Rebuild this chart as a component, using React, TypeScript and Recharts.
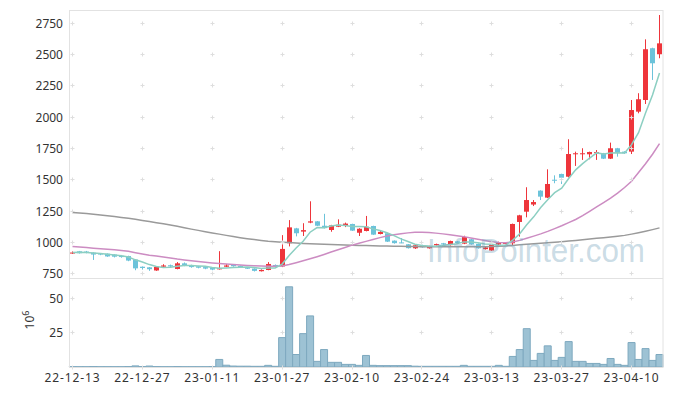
import React from 'react';
import { ComposedChart, Bar, Line, XAxis, YAxis, ReferenceDot, Label } from 'recharts';

const dates = [
  '22-12-13','22-12-14','22-12-15','22-12-16','22-12-19','22-12-20','22-12-21','22-12-22','22-12-23','22-12-26',
  '22-12-27','22-12-28','22-12-29','23-01-02','23-01-03','23-01-04','23-01-05','23-01-06','23-01-09','23-01-10',
  '23-01-11','23-01-12','23-01-13','23-01-16','23-01-17','23-01-18','23-01-19','23-01-20','23-01-25','23-01-26',
  '23-01-27','23-01-30','23-01-31','23-02-01','23-02-02','23-02-03','23-02-06','23-02-07','23-02-08','23-02-09',
  '23-02-10','23-02-13','23-02-14','23-02-15','23-02-16','23-02-17','23-02-20','23-02-21','23-02-22','23-02-23',
  '23-02-24','23-02-27','23-02-28','23-03-02','23-03-03','23-03-06','23-03-07','23-03-08','23-03-09','23-03-10',
  '23-03-13','23-03-14','23-03-15','23-03-16','23-03-17','23-03-20','23-03-21','23-03-22','23-03-23','23-03-24',
  '23-03-27','23-03-28','23-03-29','23-03-30','23-03-31','23-04-03','23-04-04','23-04-05','23-04-06','23-04-07',
  '23-04-10','23-04-11','23-04-12','23-04-13','23-04-14',
];

const opens = [
  917,931,929,920,914,912,905,895,893,865,
  808,803,778,808,820,790,835,820,812,805,
  800,790,808,822,815,800,793,772,782,822,
  810,995,1114,1088,1160,1170,1135,1101,1127,1133,
  1149,1079,1093,1133,1069,1075,1016,1002,987,955,
  981,955,979,995,980,1011,992,1027,990,948,
  937,985,990,995,1165,1247,1304,1415,1359,1502,
  1548,1526,1705,1705,1705,1716,1713,1670,1753,1726,
  1726,2045,2138,2551,2503,
];
const highs = [
  930,934,934,923,917,914,908,902,896,868,
  810,805,810,828,825,845,842,824,815,808,
  803,932,830,826,818,803,795,787,845,826,
  1060,1180,1118,1155,1330,1172,1230,1142,1186,1160,
  1151,1115,1213,1135,1100,1077,1018,1037,989,982,
  984,976,992,998,1016,1014,1055,1030,993,965,
  987,1008,1005,1152,1222,1442,1340,1418,1585,1537,
  1550,1825,1726,1753,1726,1739,1716,1798,1756,1729,
  2138,2192,2622,2555,2816,
];
const lows = [
  910,913,915,862,900,887,882,880,852,780,
  785,775,775,806,806,787,812,800,795,788,
  780,785,805,808,800,790,770,770,780,805,
  805,970,1050,1053,1155,1132,1113,1087,1124,1124,
  1093,1053,1090,1062,1066,1005,992,996,953,950,
  960,952,977,982,977,993,988,984,952,945,
  934,982,987,979,1048,1202,1292,1340,1355,1474,
  1468,1520,1612,1660,1665,1660,1667,1667,1686,1708,
  1707,2032,2106,2298,2471,
];
const closes = [
  921,916,918,905,905,890,888,885,857,795,
  798,788,806,818,810,835,820,805,800,793,
  785,795,818,812,805,793,775,782,830,808,
  950,1122,1075,1100,1170,1135,1116,1138,1143,1152,
  1096,1111,1127,1064,1086,1008,996,998,956,979,
  963,973,989,985,1013,996,1045,987,955,962,
  984,1004,1000,1149,1218,1340,1324,1367,1468,1498,
  1518,1707,1713,1713,1723,1722,1670,1753,1718,1713,
  2058,2144,2543,2431,2590,
];
const volumes = [
  0.2,0.2,0.2,0.3,0.2,0.2,0.2,0.2,0.3,0.8,
  0.3,0.7,0.3,0.2,0.2,0.3,0.2,0.2,0.2,0.2,
  0.3,5.5,1.3,0.7,0.6,0.6,0.5,0.5,1.2,0.5,
  21.4,58.4,9.1,24.3,37.2,4.1,12.7,3.4,3.4,1.9,
  1.9,1.2,8.4,1.2,1.0,1.0,1.0,1.0,1.0,0.6,
  0.5,0.5,0.5,0.5,0.5,0.5,1.2,0.5,0.5,0.5,
  0.5,1.2,0.5,7.7,12.7,27.9,4.8,9.9,15.4,4.8,
  7.0,18.5,4.1,4.1,2.6,2.6,1.9,6.2,1.9,1.2,
  17.8,5.5,13.4,4.8,9.1,
];
const ma5 = [
  922,923,922,918,913,907,901,895,885,863,
  845,825,809,801,804,812,818,818,814,811,
  801,796,798,801,803,805,801,793,797,798,
  829,898,957,1011,1083,1120,1119,1132,1140,1137,
  1129,1128,1126,1110,1097,1079,1056,1030,1009,987,
  978,974,972,978,985,991,1006,1005,999,989,
  987,978,981,1020,1071,1142,1206,1280,1343,1399,
  1435,1512,1581,1630,1675,1716,1708,1716,1717,1715,
  1782,1877,2035,2178,2353,
];
const ma20 = [
  970,966,961,956,951,947,943,938,931,920,
  910,900,894,886,878,869,862,855,849,843,
  838,834,830,826,822,818,815,813,812,812,
  814,826,840,855,871,888,906,925,944,962,
  980,995,1010,1025,1040,1053,1063,1071,1078,1083,
  1083,1081,1076,1070,1063,1056,1048,1038,1027,1017,
  1008,1002,1000,1006,1018,1035,1052,1070,1090,1112,
  1135,1160,1185,1215,1250,1285,1320,1355,1395,1440,
  1490,1560,1630,1705,1790,
];
const ma60 = [
  1240,1236,1232,1227,1221,1215,1208,1201,1194,1186,
  1177,1168,1159,1150,1141,1130,1119,1108,1098,1087,
  1077,1068,1058,1049,1040,1032,1025,1018,1012,1008,
  1004,1001,997,994,991,989,987,985,983,981,
  979,978,977,976,974,973,972,971,970,969,
  968,968,967,967,967,967,967,967,967,968,
  969,971,974,978,983,988,992,996,1000,1004,
  1008,1013,1018,1024,1030,1035,1040,1046,1052,1058,
  1068,1079,1091,1104,1118,
];

const priceTicks = [750, 1000, 1250, 1500, 1750, 2000, 2250, 2500, 2750];
const volumeTicks = [25, 50];
const dateTicks = ['22-12-13','22-12-27','23-01-11','23-01-27','23-02-10','23-02-24','23-03-13','23-03-27','23-04-10'];

const data = dates.map((d, i) => ({
  date: d,
  open: opens[i],
  high: highs[i],
  low: lows[i],
  close: closes[i],
  range: [lows[i], highs[i]],
  volume: volumes[i],
  ma5: ma5[i],
  ma20: ma20[i],
  ma60: ma60[i],
}));

const RED = '#ee353b';
const BLUE = '#6cc3da';
const FONT = '"Noto Sans", sans-serif';
const GRID = '#dedede';

const Candle = (props: any) => {
  const { x, y, width, height, payload } = props;
  if (x == null || y == null || !payload) return null;
  const top = Math.min(y, y + height);
  const bot = Math.max(y, y + height);
  const { open, close, high, low } = payload;
  const span = high - low;
  const toY = (v: number) => (span === 0 ? top : top + ((high - v) / span) * (bot - top));
  const c = Math.floor(x + width / 2) + 0.5;
  const up = close >= open;
  const color = up ? RED : BLUE;
  const yo = toY(open);
  const yc = toY(close);
  const bTop = Math.min(yo, yc);
  const bH = Math.max(1, Math.abs(yo - yc));
  return (
    <g>
      <line x1={c} x2={c} y1={top} y2={bot} stroke={color} strokeWidth={1} />
      <rect x={c - 2.5} y={bTop} width={5} height={bH} fill={color} />
    </g>
  );
};

const Cross = (props: any) => {
  const { cx, cy } = props;
  if (cx == null || cy == null) return null;
  const X = Math.floor(cx) + 0.5;
  const Y = Math.floor(cy) + 0.5;
  return <path d={`M${X - 2},${Y}H${X + 2}M${X},${Y - 2}V${Y + 2}`} stroke={GRID} strokeWidth={1} fill="none" />;
};

const VolLabel = () => (
  <text
    x={34}
    y={42}
    transform="rotate(-90, 34, 42)"
    textAnchor="middle"
    fontFamily={FONT}
    fontSize={12}
    fill="#333"
  >
    10<tspan dy={-5} fontSize={9}>6</tspan>
  </text>
);

export default function App() {
  return (
    <div style={{ position: 'absolute', left: 0, top: 0, width: 673, height: 396, background: '#fff', overflow: 'hidden' }}>
      <div style={{ position: 'absolute', left: 0, top: 278 }}>
        <ComposedChart width={673} height={118} data={data} margin={{ top: 0, right: 10, bottom: 0, left: 9 }} barCategoryGap={0}>
          <XAxis
            dataKey="date"
            type="category"
            ticks={dateTicks}
            interval={0}
            height={29}
            tickLine={false}
            axisLine={false}
            tickSize={4}
            tickMargin={2}
            tick={{ fontSize: 12, fill: '#333', fontFamily: FONT, letterSpacing: 0.9 }}
          />
          <YAxis
            domain={[0, 64.8]}
            ticks={volumeTicks}
            interval={0}
            allowDataOverflow
            width={60}
            tickLine={false}
            axisLine={false}
            tickSize={4}
            tickMargin={2}
            tick={{ fontSize: 12, fill: '#333', fontFamily: FONT }}
          >
            <Label content={VolLabel} />
          </YAxis>
          {dateTicks.map((d) =>
            [0, 25, 50].map((p) => (
              <ReferenceDot key={`v-${d}-${p}`} x={d} y={p} r={0} shape={Cross} ifOverflow="visible" />
            ))
          )}
          <Bar dataKey="volume" fill="#9dc2d4" stroke="#7ea9bf" strokeWidth={1} isAnimationActive={false} />
        </ComposedChart>
      </div>
      <div style={{ position: 'absolute', left: 0, top: 0 }}>
        <ComposedChart width={673} height={292} data={data} margin={{ top: 10, right: 10, bottom: 14, left: 9 }}>
          <XAxis dataKey="date" hide type="category" />
          <YAxis
            domain={[718, 2856]}
            ticks={priceTicks}
            interval={0}
            allowDataOverflow
            width={60}
            tickLine={false}
            axisLine={false}
            tickSize={4}
            tickMargin={2}
            tick={{ fontSize: 12, fill: '#333', fontFamily: FONT }}
          />
          {dateTicks.map((d) =>
            priceTicks.map((p) => (
              <ReferenceDot key={`g-${d}-${p}`} x={d} y={p} r={0} shape={Cross} ifOverflow="visible" />
            ))
          )}
          <Line dataKey="ma60" stroke="#9a9a9a" strokeWidth={1.5} dot={false} isAnimationActive={false} />
          <Line dataKey="ma20" stroke="#cc8cc2" strokeWidth={1.5} dot={false} isAnimationActive={false} />
          <Line dataKey="ma5" stroke="#8ccfc2" strokeWidth={1.5} dot={false} isAnimationActive={false} />
          <Bar dataKey="range" shape={Candle} isAnimationActive={false} />
        </ComposedChart>
      </div>
      <svg width={673} height={396} style={{ position: 'absolute', left: 0, top: 0, pointerEvents: 'none' }}>
        <rect x={69.5} y={10.5} width={593.5} height={357} fill="none" stroke="#e2e2e2" strokeWidth={1} />
        <line x1={69.5} x2={663} y1={278.5} y2={278.5} stroke="#e2e2e2" strokeWidth={1} />
        <text
          x={427}
          y={262}
          textLength={218}
          lengthAdjust="spacingAndGlyphs"
          fontFamily='"Liberation Sans", Arial, sans-serif'
          fontSize={33}
          fill="rgba(120,165,190,0.4)"
        >
          InfoPointer.com
        </text>
      </svg>
    </div>
  );
}
